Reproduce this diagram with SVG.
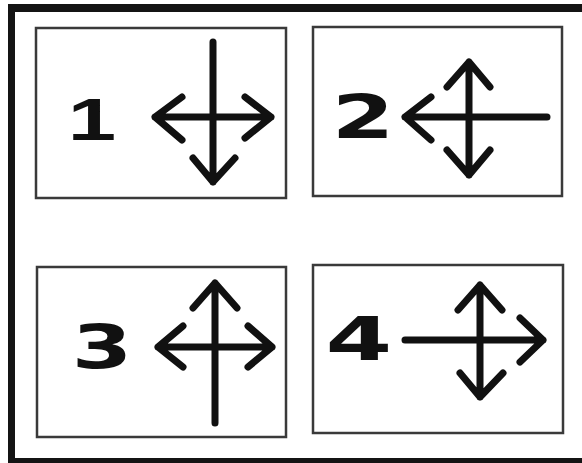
<svg xmlns="http://www.w3.org/2000/svg" width="582" height="463" viewBox="0 0 582 463">
<style>
.box{fill:#fff;stroke:#3a3a3a;stroke-width:2.5}
.ar{fill:none;stroke:#111;stroke-width:7;stroke-linecap:round;stroke-linejoin:round}
.num{font-family:"DejaVu Sans",sans-serif;font-weight:bold;font-size:60px;fill:#111;text-anchor:middle}
.one{font-family:"Liberation Sans",Arial,sans-serif}
.frame{fill:#141414}
</style>
<rect width="582" height="463" fill="#fff"/>
<g id="frame">
<rect class="frame" x="8" y="4" width="574" height="8" fill="#2a2a2a"/>
<rect class="frame" x="8" y="4" width="7" height="459"/>
<rect class="frame" x="8" y="458" width="574" height="5"/>
</g>
<g id="node1">
<rect class="box" x="36" y="28" width="250" height="170"/>
<text class="num one" transform="translate(92,140) scale(1.45,1)">1</text>
<path class="ar" d="M213 42V182M155 117H271M182 97L155 117L182 140M245 97L271 117L245 138M193 158L213 182L235 158"/>
</g>
<g id="node2">
<rect class="box" x="313" y="27" width="249" height="169"/>
<text class="num" transform="translate(363,138) scale(1.5,1)">2</text>
<path class="ar" d="M469 62V175M405 117H547M431 97L405 117L431 140M447 87L469 62L490 87M447 150L469 175L490 150"/>
</g>
<g id="node3">
<rect class="box" x="37" y="267" width="249" height="170"/>
<text class="num" transform="translate(102,368) scale(1.45,1)">3</text>
<path class="ar" d="M215 283V423M158 347H272M183 326L158 347L183 367M248 326L272 347L248 367M193 308L215 283L237 308"/>
</g>
<g id="node4">
<rect class="box" x="313" y="265" width="250" height="168"/>
<text class="num" transform="translate(359,360) scale(1.6,1)">4</text>
<path class="ar" d="M480 285V397M405 340H543M520 318L543 340L520 362M458 310L480 285L502 310M460 373L480 397L503 373"/>
</g>
</svg>
